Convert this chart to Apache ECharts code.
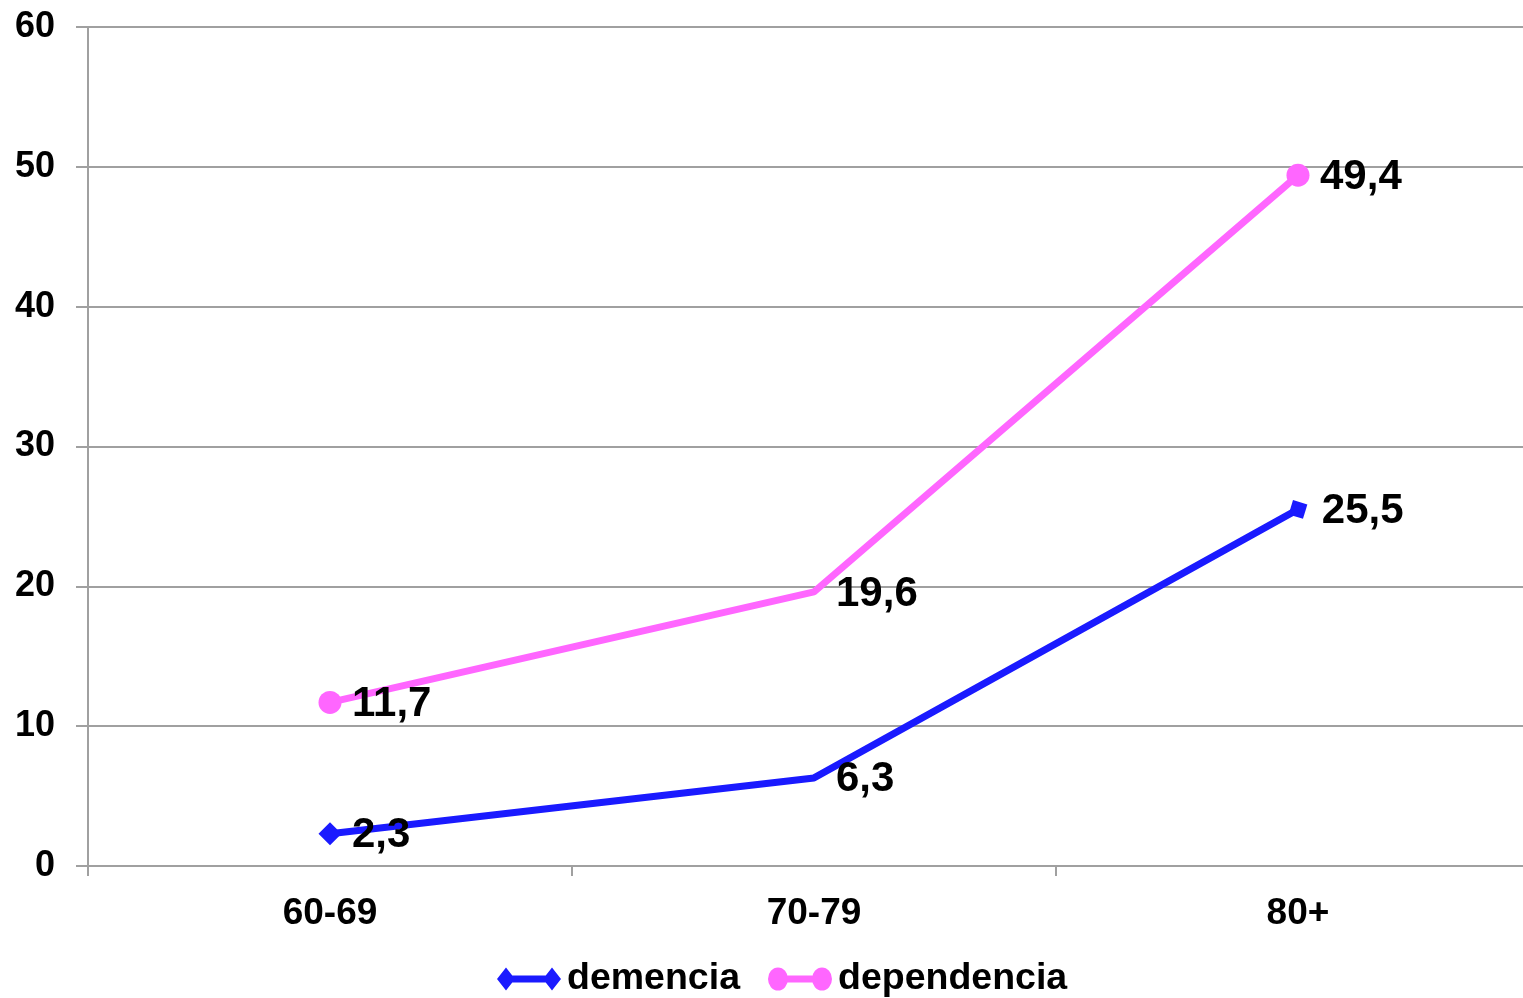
<!DOCTYPE html>
<html>
<head>
<meta charset="utf-8">
<script src="https://cdn.jsdelivr.net/npm/echarts@6/dist/echarts.min.js"></script>
<style>
  html, body { margin: 0; padding: 0; background: #ffffff; overflow: hidden; }
  /* the plot runs slightly past the right edge of the window */
  #chart { width: 1540px; height: 998px; }
</style>
</head>
<body>
<div id="chart"></div>
<script>
// Age groups and rates (%) per group
const categories = ['60-69', '70-79', '80+'];
const demencia = [2.3, 6.3, 25.5];
const dependencia = [11.7, 19.6, 49.4];
const yTicks = { min: 0, max: 60, interval: 10 };

const FONT = "'Liberation Sans', Arial, sans-serif";
const BLUE = '#1a1aff';
const PINK = '#ff66ff';

// Marker shown at each point (middle points carry no visible marker)
const demenciaMarkers = [
  { symbol: 'diamond', symbolSize: 23, symbolRotate: 0 },
  { symbol: 'diamond', symbolSize: 0, symbolRotate: 0 },
  { symbol: 'rect', symbolSize: 15, symbolRotate: -17 }
];
const dependenciaMarkers = [
  { symbol: 'circle', symbolSize: 23 },
  { symbol: 'circle', symbolSize: 0 },
  { symbol: 'circle', symbolSize: 23 }
];

function buildItems(values, markers) {
  return values.map((v, i) => {
    const m = markers[i];
    const size = m.symbolSize;
    return Object.assign({ value: v }, m, {
      label: { distance: size > 0 ? 22 - size / 2 : 22 }
    });
  });
}

const fmt = p => String(p.value).replace('.', ',');

// Legend icons: a short line with a marker at each end
const diamondIcon = 'path://M0,11.5L9,0L18,11.5L9,23Z M46,11.5L55,0L64,11.5L55,23Z M9,8L55,8L55,15L9,15Z';
const circleIcon = 'path://M0,11.5A10,11.5 0 1 1 20,11.5A10,11.5 0 1 1 0,11.5Z M44,11.5A10,11.5 0 1 1 64,11.5A10,11.5 0 1 1 44,11.5Z M10,8L54,8L54,15L10,15Z';

const chart = echarts.init(document.getElementById('chart'), null, { renderer: 'canvas' });

const labelStyle = {
  show: true,
  position: 'right',
  formatter: fmt,
  color: '#000',
  fontFamily: FONT,
  fontWeight: 'bold',
  fontSize: 42,
  offset: [0, 2]
};

chart.setOption({
  animation: false,
  backgroundColor: '#ffffff',
  grid: { left: 88, right: 0, top: 27, bottom: 132, containLabel: false },
  legend: {
    left: 497,
    top: 960,
    padding: 0,
    itemWidth: 66,
    itemHeight: 23,
    itemGap: 28,
    textStyle: { color: '#000', fontFamily: FONT, fontWeight: 'bold', fontSize: 37.5 },
    data: [
      { name: 'demencia', icon: diamondIcon, itemStyle: { color: BLUE } },
      { name: 'dependencia', icon: circleIcon, itemStyle: { color: PINK } }
    ]
  },
  xAxis: {
    type: 'category',
    data: categories,
    boundaryGap: true,
    axisLine: { show: true, lineStyle: { color: '#a0a0a0', width: 2 } },
    axisTick: { show: true, length: 10, lineStyle: { color: '#a0a0a0', width: 2 } },
    axisLabel: { color: '#000', fontFamily: FONT, fontWeight: 'bold', fontSize: 37, margin: 29 },
    splitLine: { show: false }
  },
  yAxis: {
    type: 'value',
    min: yTicks.min,
    max: yTicks.max,
    interval: yTicks.interval,
    axisLine: { show: true, lineStyle: { color: '#a0a0a0', width: 2 } },
    axisTick: { show: true, length: 12, lineStyle: { color: '#a0a0a0', width: 2 } },
    axisLabel: { color: '#000', fontFamily: FONT, fontWeight: 'bold', fontSize: 36, margin: 33, padding: [4, 0, 0, 0] },
    splitLine: { show: true, lineStyle: { color: '#a0a0a0', width: 2 } }
  },
  series: [
    {
      name: 'demencia',
      type: 'line',
      data: buildItems(demencia, demenciaMarkers),
      showAllSymbol: true,
      lineStyle: { color: BLUE, width: 7 },
      itemStyle: { color: BLUE },
      label: labelStyle,
      z: 3
    },
    {
      name: 'dependencia',
      type: 'line',
      data: buildItems(dependencia, dependenciaMarkers),
      showAllSymbol: true,
      lineStyle: { color: PINK, width: 7 },
      itemStyle: { color: PINK },
      label: labelStyle,
      z: 3
    }
  ]
});
</script>
</body>
</html>
